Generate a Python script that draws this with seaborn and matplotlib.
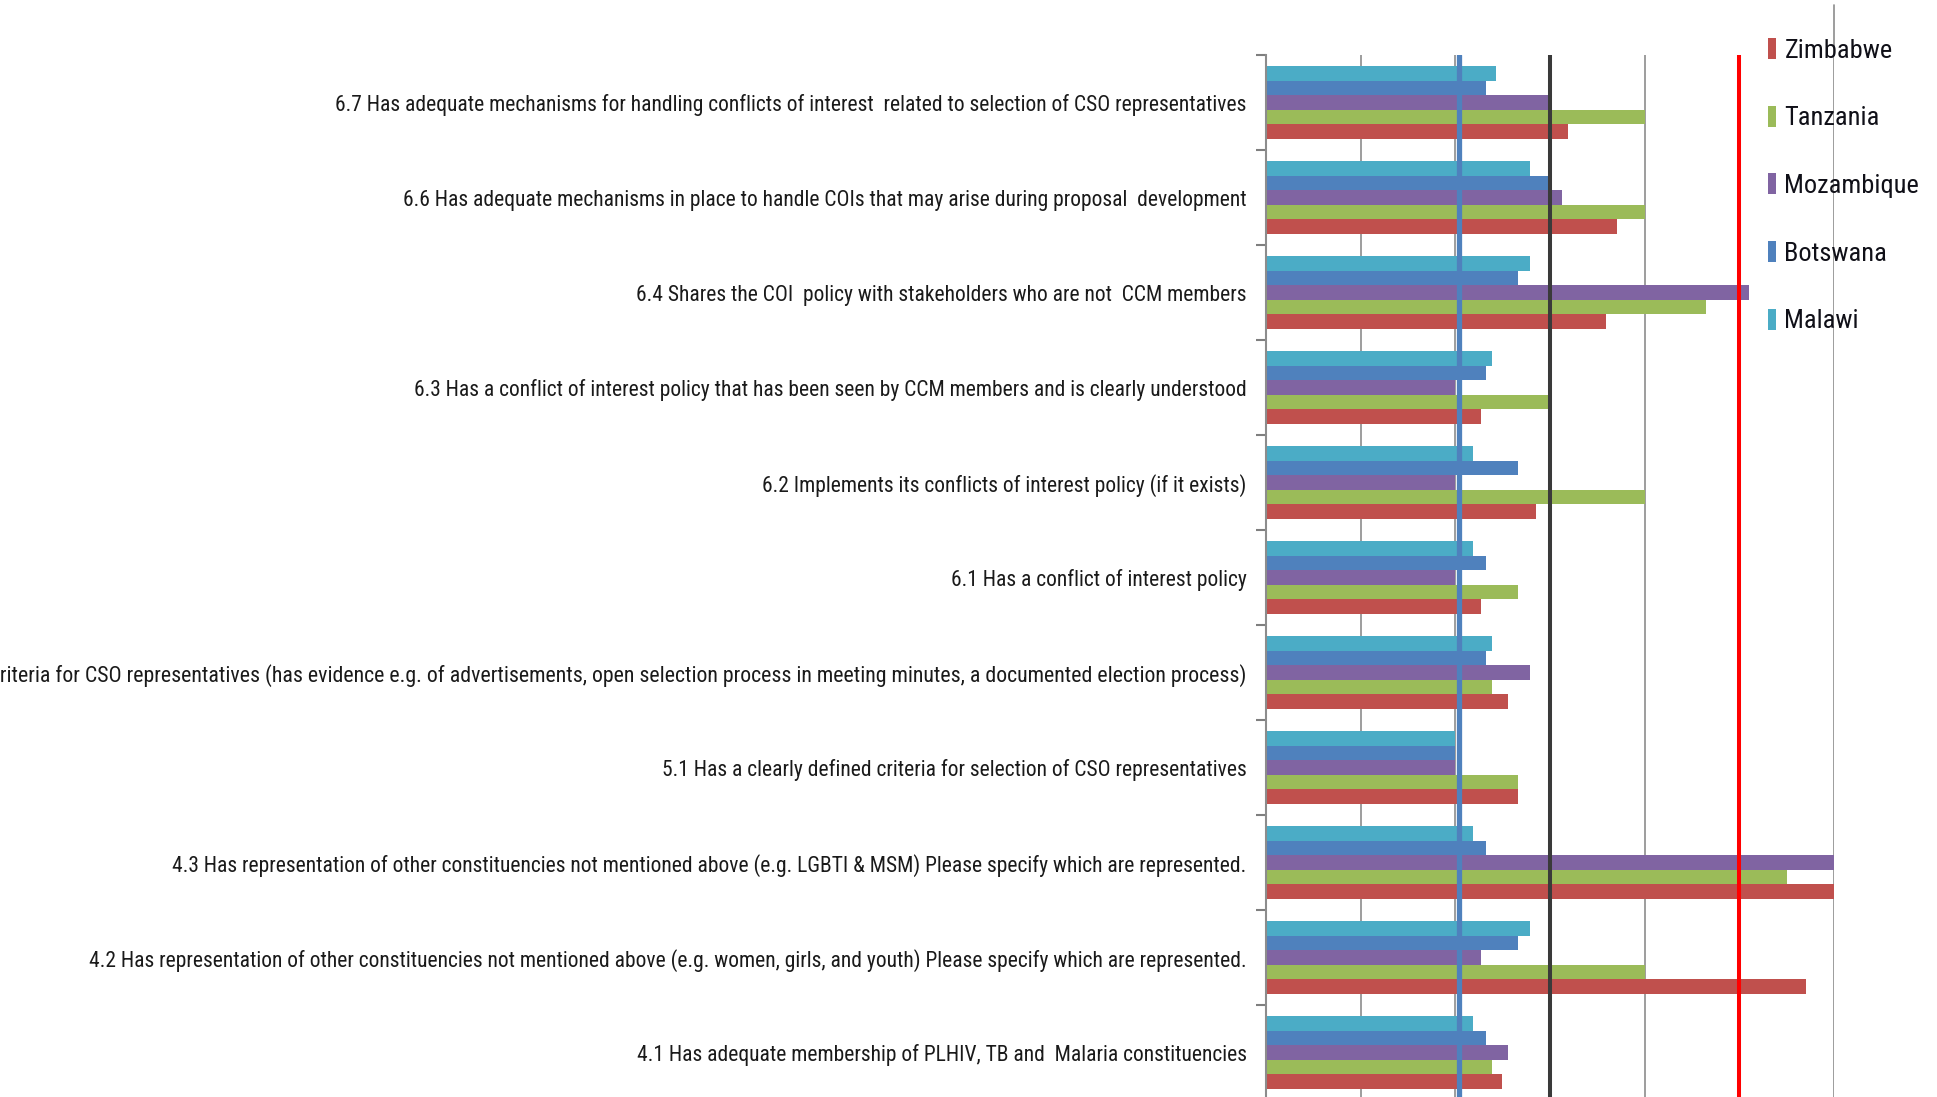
import numpy as np
import pandas as pd
import matplotlib
matplotlib.use("Agg")
import matplotlib.pyplot as plt
import seaborn as sns
from matplotlib import font_manager
from matplotlib.patches import Patch
from matplotlib.ticker import MultipleLocator, FixedLocator
from matplotlib.transforms import blended_transform_factory

# Assessment items, top to bottom
items = [
    "6.7 Has adequate mechanisms for handling conflicts of interest  related to selection of CSO representatives",
    "6.6 Has adequate mechanisms in place to handle COIs that may arise during proposal  development",
    "6.4 Shares the COI  policy with stakeholders who are not  CCM members",
    "6.3 Has a conflict of interest policy that has been seen by CCM members and is clearly understood",
    "6.2 Implements its conflicts of interest policy (if it exists)",
    "6.1 Has a conflict of interest policy",
    "5.2 Uses its selection criteria for CSO representatives (has evidence e.g. of advertisements, open selection process in meeting minutes, a documented election process)",
    "5.1 Has a clearly defined criteria for selection of CSO representatives",
    "4.3 Has representation of other constituencies not mentioned above (e.g. LGBTI & MSM) Please specify which are represented.",
    "4.2 Has representation of other constituencies not mentioned above (e.g. women, girls, and youth) Please specify which are represented.",
    "4.1 Has adequate membership of PLHIV, TB and  Malaria constituencies",
]

# Scores per country, same item order
zimbabwe   = [3.19, 3.71, 3.59, 2.27, 2.85, 2.27, 2.56, 2.66, 6.00, 5.70, 2.49]
tanzania   = [4.00, 4.00, 4.65, 3.00, 4.00, 2.66, 2.39, 2.66, 5.50, 4.00, 2.39]
mozambique = [3.00, 3.13, 5.10, 2.00, 2.00, 2.00, 2.79, 2.00, 6.00, 2.27, 2.56]
botswana   = [2.32, 3.00, 2.66, 2.32, 2.66, 2.32, 2.32, 2.00, 2.32, 2.66, 2.32]
malawi     = [2.43, 2.79, 2.79, 2.39, 2.19, 2.19, 2.39, 2.00, 2.19, 2.79, 2.19]

countries = ["Zimbabwe", "Tanzania", "Mozambique", "Botswana", "Malawi"]
palette = {
    "Zimbabwe": "#C0504D",
    "Tanzania": "#9BBB59",
    "Mozambique": "#8064A2",
    "Botswana": "#4F81BD",
    "Malawi": "#4BACC6",
}

# Reference thresholds
blue_ref, black_ref, red_ref = 2.04, 3.0, 5.0

df = pd.DataFrame({
    "item": items,
    "Zimbabwe": zimbabwe,
    "Tanzania": tanzania,
    "Mozambique": mozambique,
    "Botswana": botswana,
    "Malawi": malawi,
}).melt(id_vars="item", var_name="country", value_name="score")

sns.set_theme(style="white")

# Prefer a narrow sans face for the long item labels
names = {f.name for f in font_manager.fontManager.ttflist}
narrow = None
for cand in ["Liberation Sans Narrow", "Roboto Condensed", "Open Sans Condensed", "DejaVu Sans Condensed"]:
    if cand in names:
        narrow = cand
        break
stretch = "normal"
if narrow is None:
    narrow = "DejaVu Sans"
    stretch = "condensed"
plt.rcParams["font.family"] = [narrow, "DejaVu Sans"]
plt.rcParams["font.stretch"] = stretch

W, H = 1937, 1097
fig = plt.figure(figsize=(W / 100, H / 100), dpi=100)
left_px, right_px, top_px, bottom_px = 1266, 1834, 55, 1100
ax = fig.add_axes([left_px / W, 1 - bottom_px / H,
                   (right_px - left_px) / W, (bottom_px - top_px) / H])

sns.barplot(data=df, x="score", y="item", hue="country",
            order=items, hue_order=countries[::-1], palette=palette,
            orient="h", width=0.76, saturation=1, errorbar=None,
            legend=False, linewidth=0, ax=ax)

ax.set_xlim(0, 6)
ax.set_ylim(len(items) - 0.5, -0.5)
ax.set_xlabel("")
ax.set_ylabel("")

ax.xaxis.set_major_locator(MultipleLocator(1))
ax.grid(axis="x", color="#8c8c8c", linewidth=1.2)
ax.grid(axis="y", visible=False)
ax.set_axisbelow(True)
ax.tick_params(axis="x", length=0, labelbottom=False)

for side in ["top", "right", "bottom"]:
    ax.spines[side].set_visible(False)
ax.spines["left"].set_color("#8c8c8c")
ax.spines["left"].set_linewidth(1.5)

ax.yaxis.set_minor_locator(FixedLocator(np.arange(-0.5, len(items), 1.0)))
ax.tick_params(axis="y", which="major", length=0, pad=14, labelsize=15.5, labelcolor="#1a1a1a")
ax.tick_params(axis="y", which="minor", length=7, width=1.5, color="#7f7f7f", direction="out", left=True)
# the long 5.2 item runs off the left edge
ax.get_yticklabels()[6].set_fontsize(15.75)

ax.axvline(blue_ref, color="#4F81BD", linewidth=3.8)
ax.axvline(black_ref, color="#3a3a3a", linewidth=2.9)
ax.axvline(red_ref, color="#FF0000", linewidth=2.9)

# gridline at the right edge runs up past the plot top
trans = blended_transform_factory(ax.transData, ax.transAxes)
ax.plot([6, 6], [1.0, 1.048], transform=trans, color="#8c8c8c",
        linewidth=1.2, clip_on=False)

handles = [Patch(facecolor=palette[c], edgecolor="none", label=c) for c in countries]
leg = fig.legend(handles=handles, loc="upper left",
                 bbox_to_anchor=(1768 / W, 1 - 38 / H),
                 frameon=False, fontsize=19, handlelength=0.32, handleheight=0.85,
                 handletextpad=0.3, labelspacing=1.63, borderpad=0, borderaxespad=0)
for t in leg.get_texts():
    t.set_color("#101018")

fig.savefig("out.png", dpi=100)
